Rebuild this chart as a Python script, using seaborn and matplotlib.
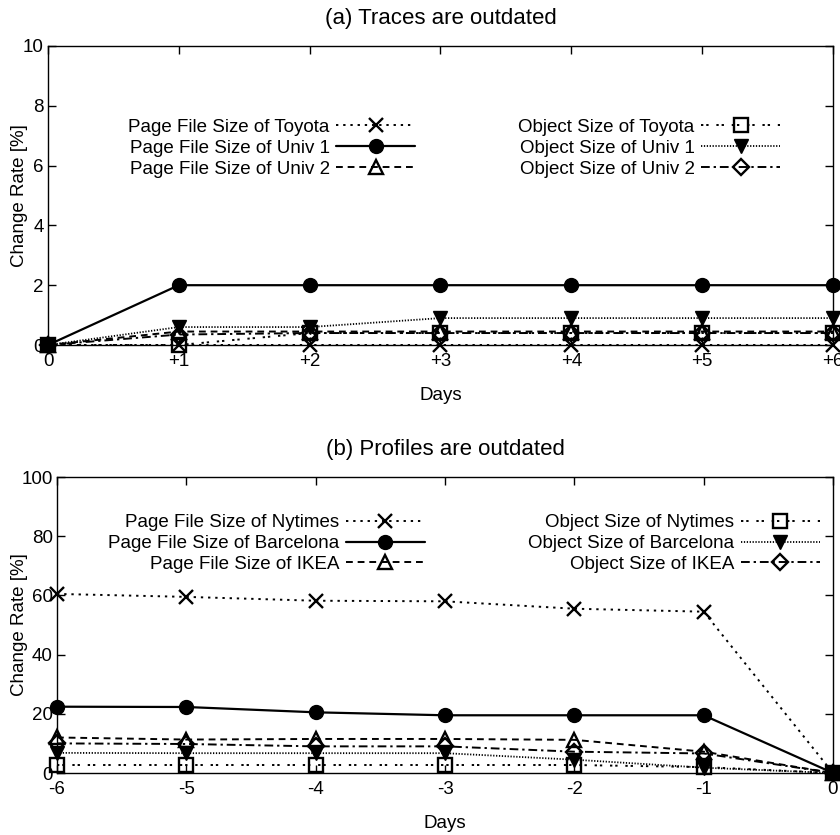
import matplotlib
matplotlib.use("Agg")
import matplotlib.pyplot as plt
import seaborn as sns
import pandas as pd

# ---------------- data ----------------
days_a = [0, 1, 2, 3, 4, 5, 6]
days_a_labels = ["0", "+1", "+2", "+3", "+4", "+5", "+6"]
toyota_page = [0, 0, 0, 0, 0, 0, 0]
univ1_page = [0, 2, 2, 2, 2, 2, 2]
univ2_page = [0, 0.45, 0.45, 0.45, 0.45, 0.45, 0.45]
toyota_obj = [0, 0, 0.4, 0.4, 0.4, 0.4, 0.4]
univ1_obj = [0, 0.6, 0.6, 0.9, 0.9, 0.9, 0.9]
univ2_obj = [0, 0.35, 0.4, 0.4, 0.4, 0.4, 0.4]

days_b = [-6, -5, -4, -3, -2, -1, 0]
nytimes_page = [60.5, 59.5, 58.2, 58.0, 55.5, 54.5, 0]
barcelona_page = [22.4, 22.3, 20.5, 19.5, 19.5, 19.5, 0]
ikea_page = [12.0, 11.3, 11.5, 11.5, 11.2, 7.2, 0]
nytimes_obj = [2.7, 2.7, 2.7, 2.7, 2.7, 2.0, 0]
barcelona_obj = [6.8, 6.7, 6.7, 6.7, 4.5, 1.8, 0]
ikea_obj = [10.0, 9.8, 9.0, 9.0, 7.2, 6.6, 0]

labels_a = ["Page File Size of Toyota", "Page File Size of Univ 1", "Page File Size of Univ 2",
            "Object Size of Toyota", "Object Size of Univ 1", "Object Size of Univ 2"]
labels_b = ["Page File Size of Nytimes", "Page File Size of Barcelona", "Page File Size of IKEA",
            "Object Size of Nytimes", "Object Size of Barcelona", "Object Size of IKEA"]

# ---------------- style ----------------
sns.set_style("ticks")
FONTS = ["Liberation Sans", "DejaVu Sans"]
plt.rcParams["font.family"] = FONTS
plt.rcParams["axes.linewidth"] = 1.0
plt.rcParams["text.color"] = "black"
plt.rcParams["axes.labelcolor"] = "black"
plt.rcParams["xtick.color"] = "black"
plt.rcParams["ytick.color"] = "black"

styles = [
    dict(marker="x", ls=(0, (1.2, 2.5)), mfc="none", ms=9.5, mew=1.7, lw=1.4),
    dict(marker="o", ls="-", mfc="black", ms=10, mew=1.0, lw=1.6),
    dict(marker="^", ls=(0, (3.5, 2.5)), mfc="none", ms=9.5, mew=1.7, lw=1.4),
    dict(marker="s", ls=(0, (1.2, 1.5, 1.2, 4)), mfc="none", ms=9.5, mew=1.7, lw=1.4),
    dict(marker="v", ls=(0, (0.7, 0.9)), mfc="black", ms=9.5, mew=1.0, lw=1.3),
    dict(marker="D", ls=(0, (4.5, 2, 1.2, 2)), mfc="none", ms=8, mew=1.7, lw=1.4),
]

fig = plt.figure(figsize=(8.4, 8.35), dpi=100)
W, H = 840, 835


def axes_from_px(l, t, r, b):
    return fig.add_axes([l / W, 1 - b / H, (r - l) / W, (b - t) / H])


ax_a = axes_from_px(48, 46, 833, 345)
ax_b = axes_from_px(57, 477, 833, 773)

FS = 13.5


def draw(ax, x, series, labels):
    lines = []
    for vals, lab, st in zip(series, labels, styles):
        df = pd.DataFrame({"x": x, "y": vals})
        sns.lineplot(data=df, x="x", y="y", ax=ax, color="black", label=lab,
                     marker=st["marker"], linestyle=st["ls"], markersize=st["ms"],
                     markerfacecolor=st["mfc"], markeredgecolor="black",
                     markeredgewidth=st["mew"], linewidth=st["lw"], legend=False,
                     clip_on=False, zorder=3)
        lines.append(ax.get_lines()[-1])
    return lines


def finish(ax, lines, labels, xticks, xticklabels, ylim, yticks, title, leg_pos, ylab_x):
    ax.set_xlim(xticks[0], xticks[-1])
    ax.set_ylim(*ylim)
    ax.set_xticks(xticks)
    ax.set_xticklabels(xticklabels)
    ax.set_yticks(yticks)
    ax.tick_params(direction="in", length=6, width=1.0, top=True, right=True,
                   labelsize=FS, colors="black", labelcolor="black")
    ax.tick_params(axis="y", pad=3)
    ax.tick_params(axis="x", pad=6)
    for s in ax.spines.values():
        s.set_visible(True)
        s.set_color("black")
    ax.set_xlabel("Days", fontsize=FS, labelpad=12, color="black")
    ax.set_ylabel("Change Rate [%]", fontsize=FS, color="black")
    ax.yaxis.set_label_coords(ylab_x, 0.5)
    ax.set_title(title, fontsize=FS + 2.5, pad=16, color="black")
    common = dict(frameon=False, markerfirst=False, numpoints=1, fontsize=FS,
                  handlelength=4.2, handletextpad=0.35, labelspacing=0.2,
                  borderpad=0, borderaxespad=0, loc="center right",
                  bbox_transform=ax.transAxes, labelcolor="black")
    leg1 = ax.legend(lines[:3], labels[:3], bbox_to_anchor=leg_pos[0], **common)
    for t in leg1.get_texts():
        t.set_ha("right")
    ax.add_artist(leg1)
    leg2 = ax.legend(lines[3:], labels[3:], bbox_to_anchor=leg_pos[1], **common)
    for t in leg2.get_texts():
        t.set_ha("right")


la = draw(ax_a, days_a, [toyota_page, univ1_page, univ2_page, toyota_obj, univ1_obj, univ2_obj], labels_a)
finish(ax_a, la, labels_a, days_a, days_a_labels, (0, 10), [0, 2, 4, 6, 8, 10],
       "(a) Traces are outdated", [(0.4675, 0.658), (0.9325, 0.658)], -0.026)

lb = draw(ax_b, days_b, [nytimes_page, barcelona_page, ikea_page, nytimes_obj, barcelona_obj, ikea_obj], labels_b)
finish(ax_b, lb, labels_b, days_b, [str(d) for d in days_b], (0, 100), [0, 20, 40, 60, 80, 100],
       "(b) Profiles are outdated", [(0.474, 0.775), (0.983, 0.775)], -0.038)

fig.savefig("out.png", dpi=100)
